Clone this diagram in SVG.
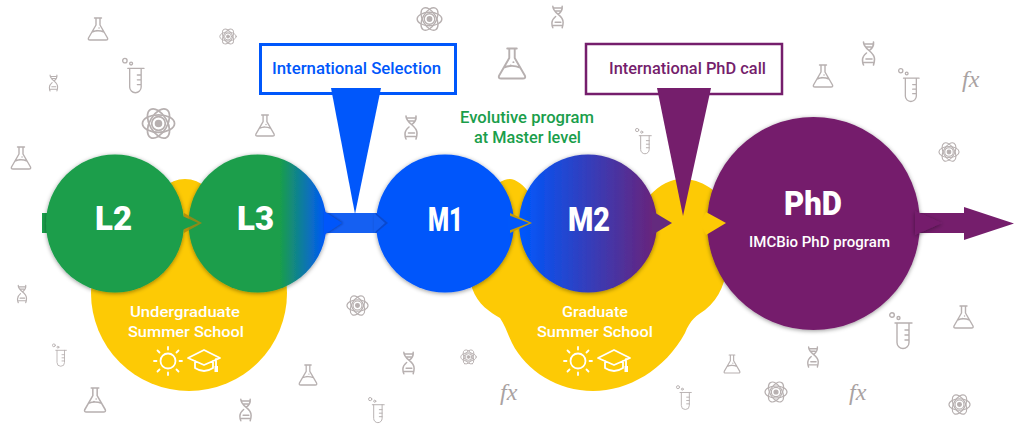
<svg xmlns="http://www.w3.org/2000/svg" width="1024" height="428" viewBox="0 0 1024 428">
<style>
text{font-family:Roboto,"Liberation Sans",sans-serif;fill:#fff;font-weight:500}
.big{font-size:33px;font-weight:900}
.lab{font-size:15.500px}
.ic{fill:none;stroke:#b7b0b0;stroke-width:1.400;stroke-linecap:round;stroke-linejoin:round}
.fx{font-family:"Liberation Serif",serif;font-style:italic;font-weight:400;font-size:24px;fill:#a9a2a2}
.w{fill:none;stroke:#fff;stroke-width:1.800;stroke-linecap:round;stroke-linejoin:round}
</style>
<defs>
<filter id="sh" x="-20%" y="-20%" width="140%" height="140%"><feDropShadow dx="0" dy="1" stdDeviation="2" flood-color="#000" flood-opacity=".4"/></filter>
<filter id="sh2" x="-40%" y="-40%" width="180%" height="180%"><feDropShadow dx="1" dy="0" stdDeviation="1" flood-color="#00205f" flood-opacity=".55"/></filter>
<linearGradient id="gL3" gradientUnits="userSpaceOnUse" x1="280" y1="0" x2="326" y2="0"><stop offset="0" stop-color="#1a9e4b"/><stop offset="1" stop-color="#0057fb"/></linearGradient>
<linearGradient id="gM2" gradientUnits="userSpaceOnUse" x1="522" y1="0" x2="670" y2="0"><stop offset="0" stop-color="#0057fb"/><stop offset="1" stop-color="#751e6c"/></linearGradient>
<symbol id="flask" viewBox="0 0 22 24" overflow="visible"><path class="ic" d="M7.500 1H14.500M9 1V8L1.500 21Q.8 23 3 23H19Q21.200 23 20.500 21L13 8V1M5 15Q11 12.500 17 15M10 13.500h.1M12 11h.1"/></symbol>
<symbol id="tube" viewBox="0 0 24 37" overflow="visible"><g class="ic"><circle cx="3" cy="3" r="2.300"/><circle cx="9.500" cy="6" r="1.500"/><path d="M6 11H23M8 11V30.500a6 6 0 0 0 12 0V11M16 18H20M16 23H20M16 28H20"/></g></symbol>
<symbol id="dna" viewBox="0 0 16 25" overflow="visible"><path class="ic" style="stroke-width:1.600" d="M3 1C3 9 14 10 14 18Q14 21 13 24M13 1C13.500 5 11.500 7.500 9 9.500M6 12C3.500 14 2 16 2 19Q2 22 3 24M4 3H12M5.500 6H10.500M5.500 18H11.500M3.500 21.500H12.500"/></symbol>
<symbol id="atom" viewBox="0 0 36 36" overflow="visible"><g class="ic" style="stroke-width:1.800"><ellipse cx="18" cy="18" rx="16.500" ry="9"/><ellipse cx="18" cy="18" rx="16.500" ry="9" transform="rotate(60 18 18)"/><ellipse cx="18" cy="18" rx="16.500" ry="9" transform="rotate(120 18 18)"/><circle cx="18" cy="18" r="7"/><circle cx="18" cy="18" r="3" fill="#b7b0b0"/></g></symbol>
<g id="summer"><g class="w"><circle cx="0" cy="0" r="7.500"/><path d="M0-11.500V-14M0 11.500V14M-11.500 0H-14M11.500 0H14M-8.500-8.500L-10.500-10.500M8.500-8.500L10.500-10.500M-8.500 8.500L-10.500 10.500M8.500 8.500L10.500 10.500"/><path d="M20-3L36-11L52-3L36 4ZM27 0V7Q36 13 45 7V0M48-2V5"/></g><rect x="46.500" y="5" width="3.500" height="6" fill="#fff"/></g>
</defs>
<rect width="1024" height="428" fill="#fff"/>
<g id="background-icons">
<use href="#flask" x="87" y="17" width="22" height="24"/><use href="#flask" x="10" y="146" width="22" height="24"/><use href="#flask" x="254" y="114" width="22" height="23"/><use href="#flask" x="497" y="47" width="30" height="33"/><use href="#flask" x="812" y="64" width="22" height="24"/><use href="#flask" x="952" y="305" width="23" height="24"/><use href="#flask" x="723" y="354" width="18" height="20"/><use href="#flask" x="298" y="364" width="20" height="22"/><use href="#flask" x="83" y="387" width="24" height="26"/>
<use href="#dna" x="48" y="74" width="11" height="18"/><use href="#dna" x="16" y="284" width="12" height="20"/><use href="#dna" x="403" y="115" width="16" height="25"/><use href="#dna" x="550" y="4" width="15" height="26"/><use href="#dna" x="860" y="41" width="17" height="25"/><use href="#dna" x="806" y="346" width="14" height="22"/><use href="#dna" x="401" y="351" width="15" height="24"/><use href="#dna" x="238" y="398" width="15" height="24"/>
<use href="#atom" x="219" y="27" width="18" height="19"/><use href="#atom" x="141" y="106" width="35" height="35"/><use href="#atom" x="416" y="5" width="27" height="28"/><use href="#atom" x="938" y="141" width="22" height="22"/><use href="#atom" x="346" y="294" width="23" height="23"/><use href="#atom" x="460" y="348" width="17" height="18"/><use href="#atom" x="764" y="380" width="24" height="24"/><use href="#atom" x="948" y="393" width="23" height="23"/>
<use href="#tube" x="122" y="57" width="23" height="37"/><use href="#tube" x="52" y="343" width="15" height="24"/><use href="#tube" x="368" y="397" width="17" height="26"/><use href="#tube" x="635" y="127" width="17" height="28"/><use href="#tube" x="898" y="68" width="22" height="34"/><use href="#tube" x="889" y="312" width="24" height="37"/><use href="#tube" x="676" y="385" width="16" height="25"/>
<text class="fx" x="962" y="87">fx</text><text class="fx" x="500" y="400">fx</text><text class="fx" x="849" y="400">fx</text>
</g>
<g id="summer-schools">
<g id="undergraduate-school"><circle cx="189" cy="293" r="98" fill="#fdca05"/><circle cx="185" cy="209" r="30" fill="#fdca05"/><rect x="150" y="205" width="70" height="60" fill="#fdca05"/></g>
<path id="graduate-school" fill="#fdca05" d="M472 288C478 305 490 312 500 318C505 325 508 335 512 343C526 371 558 391 593 391C628 391 665 370 685 333C690 320 697 315 705 310C720 298 727 280 727 260V210C720 190 700 179 683 179C670 179 660 185 650 195H530C525 185 515 179 510 179C495 179 480 200 472 230Z"/>
</g>
<g id="connectors">
<rect x="42" y="213" width="8" height="20" fill="#1a9e4b"/>
<rect x="320" y="213" width="62" height="20" fill="#1560f2"/>
<path d="M920 213H964V207L1014 223.500L964 240V233H920Z" fill="#751e6c"/>
</g>
<g id="node-L3"><circle cx="257.500" cy="223.500" r="69" fill="url(#gL3)" filter="url(#sh)"/><path d="M324 211L342 223L324 235Z" fill="#0057fb" filter="url(#sh2)"/><text class="big" x="237" y="230" textLength="37" lengthAdjust="spacingAndGlyphs">L3</text></g>
<g id="node-L2"><circle cx="115" cy="223.500" r="69" fill="#1a9e4b" filter="url(#sh)"/><path d="M184 213L202 223L184 233" fill="#a8860c" opacity=".8"/><path d="M180 215L198 223L180 231Z" fill="#1a9e4b"/><text class="big" x="95" y="230" textLength="37" lengthAdjust="spacingAndGlyphs">L2</text></g>
<g id="node-M2"><circle cx="588" cy="223.500" r="69" fill="url(#gM2)" filter="url(#sh)"/><path d="M652 211L672 223L652 235Z" fill="#642a7e"/><text class="big" x="568" y="231" textLength="42" lengthAdjust="spacingAndGlyphs">M2</text></g>
<g id="node-M1"><circle cx="445" cy="223.500" r="69" fill="#0057fb" filter="url(#sh)"/><path d="M376 213L388 223L376 233Z" fill="#0b46c4" opacity=".8"/><path d="M374 213L385 223L374 233Z" fill="#1560f2"/><path d="M510 213L532 223L510 233" fill="#c29a08"/><path d="M508 215L529 223L508 231Z" fill="#0057fb"/><text class="big" x="428" y="231" textLength="35" lengthAdjust="spacingAndGlyphs">M1</text></g>
<g id="node-PhD"><circle cx="813.500" cy="223.500" r="106.500" fill="#751e6c" filter="url(#sh)"/><path d="M706 212L726 223L706 235L700 223Z" fill="#fdca05"/><path d="M915 211L942 223L915 235Z" fill="#751e6c" filter="url(#sh)"/><text class="big" x="784" y="215" textLength="58" lengthAdjust="spacingAndGlyphs">PhD</text><text class="lab" style="font-size:14.500px" x="749" y="247" textLength="141" lengthAdjust="spacingAndGlyphs">IMCBio PhD program</text></g>
<g id="selection"><rect x="260.500" y="44.500" width="195" height="49" fill="#fff" stroke="#0057fb" stroke-width="3"/><path d="M331 88H381L355 214Z" fill="#0057fb"/><text style="fill:#0057fb;font-size:16.500px" x="272" y="74" textLength="169" lengthAdjust="spacingAndGlyphs">International Selection</text></g>
<g id="phd-call"><rect x="586" y="44" width="196" height="50" fill="#fff" stroke="#751e6c" stroke-width="2.500"/><path d="M657 88H711L683 216Z" fill="#751e6c"/><text style="fill:#751e6c;font-size:16.500px" x="609" y="74" textLength="157" lengthAdjust="spacingAndGlyphs">International PhD call</text></g>
<g id="master-note"><text style="fill:#1a9e4b;font-size:16.500px" x="460" y="123" textLength="134" lengthAdjust="spacingAndGlyphs">Evolutive program</text><text style="fill:#1a9e4b;font-size:16.500px" x="474" y="143" textLength="107" lengthAdjust="spacingAndGlyphs">at Master level</text></g>
<g id="undergraduate-label"><text class="lab" x="130" y="317" textLength="110" lengthAdjust="spacingAndGlyphs">Undergraduate</text><text class="lab" x="128" y="337" textLength="116" lengthAdjust="spacingAndGlyphs">Summer School</text><use href="#summer" x="168" y="361"/></g>
<g id="graduate-label"><text class="lab" x="562" y="317" textLength="66" lengthAdjust="spacingAndGlyphs">Graduate</text><text class="lab" x="537" y="337" textLength="116" lengthAdjust="spacingAndGlyphs">Summer School</text><use href="#summer" x="578" y="361"/></g>
</svg>
